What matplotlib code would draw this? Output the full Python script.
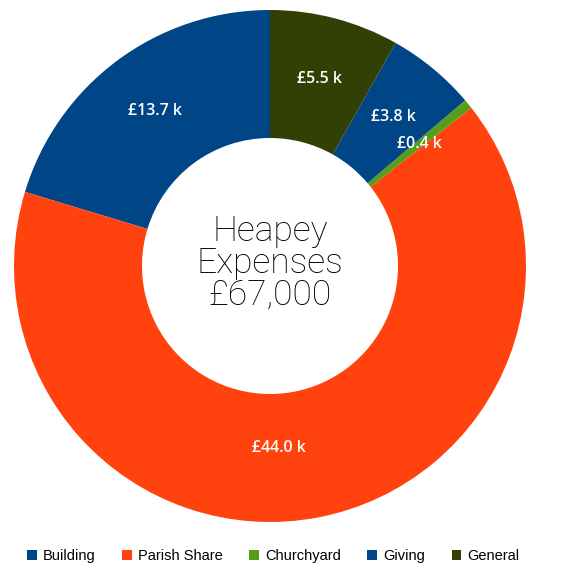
import matplotlib
matplotlib.use("Agg")
import matplotlib.pyplot as plt
from matplotlib.patches import Patch
import numpy as np

categories = ["Building", "Parish Share", "Churchyard", "Giving", "General"]
values_k = [13.7, 44.0, 0.4, 3.8, 5.5]
colors = ["#004586", "#ff420e", "#579d1c", "#004586", "#314004"]
centre_lines = ["Heapey", "Expenses", "£67,000"]

W, H = 578, 565
fig = plt.figure(figsize=(W / 100, H / 100), dpi=100)
cx, cy, r = 270, 266, 256
ax = fig.add_axes([(cx - r) / W, (H - cy - r) / H, 2 * r / W, 2 * r / H])

wedges, _ = ax.pie(
    values_k,
    colors=colors,
    startangle=90,
    counterclock=True,
    radius=1.0,
    wedgeprops=dict(width=0.5, edgecolor="none"),
)
ax.set_xlim(-1, 1)
ax.set_ylim(-1, 1)
ax.set_aspect("equal")
ax.axis("off")

# value labels sit at the middle of each ring segment
total = sum(values_k)
start = 90.0
for v in values_k:
    span = v / total * 360.0
    mid = np.deg2rad(start + span / 2)
    x, y = 0.755 * np.cos(mid), 0.755 * np.sin(mid)
    ha, va = "center", "center"
    if np.sin(mid) < -0.9:
        ha, va = "right", "bottom"
    ax.text(x, y, f"£{v:.1f} k", ha=ha, va=va, color="white", fontsize=11.5,
            fontweight="semibold", family=["Open Sans", "DejaVu Sans"])
    start += span

ax.text(0, 0.01, "\n".join(centre_lines), ha="center", va="center",
        fontsize=25.5, fontweight="light", family=["Roboto", "DejaVu Sans"],
        color="black", linespacing=0.95)

handles = [Patch(facecolor=c, edgecolor="none") for c in colors]
fig.legend(handles, categories, loc="lower center", ncol=5,
           bbox_to_anchor=(273.5 / W, -0.02), frameon=False,
           handlelength=0.65, handleheight=0.65, handletextpad=0.45,
           columnspacing=1.8, prop={"family": "Liberation Sans", "size": 10.5})

fig.savefig("out.png", dpi=100)
